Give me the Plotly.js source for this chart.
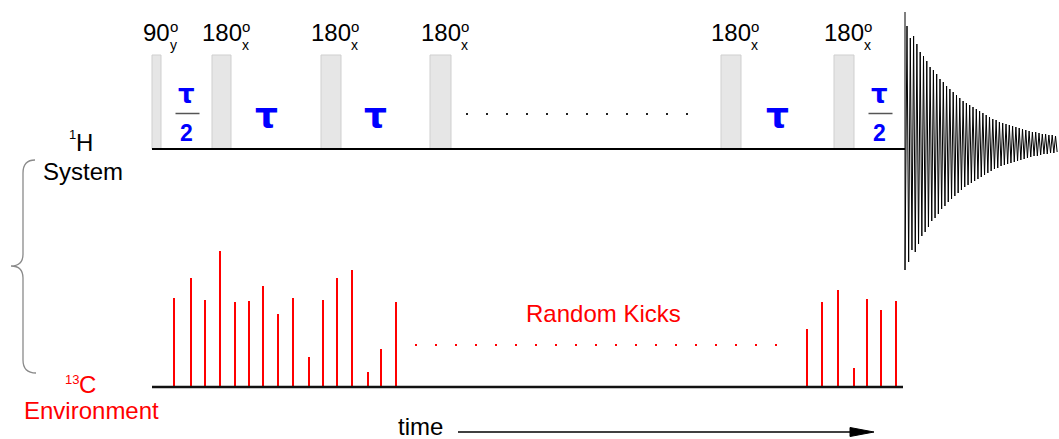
<!DOCTYPE html>
<html><head><meta charset="utf-8">
<script src="https://cdn.plot.ly/plotly-3.0.1.min.js"></script>
<style>html,body{margin:0;padding:0;background:#fff}</style>
</head><body><div id="chart" style="width:1059px;height:439px"></div>
<script>
// ---- data ----
const pulseAngles = ['90','180','180','180','180','180'];
const pulsePhases = ['y','x','x','x','x','x'];
const pulseStart = [152,212,321,430,721,834];
const pulseEnd   = [161,231,341,451,741,854];
const gapLabels  = ['τ/2','τ','τ','···','τ','τ/2'];
const acquisitionStart = 905;
const kickTimes   = [174,191,205,220,235,249,263,278,293,309,323,337,352,368,381,396,807,822,838,854,867,881,896];
const kickHeights = [89,109,87,136,85,86,101,73,89,30,87,109,117,15,38,85,58,85,97,19,88,77,86];
const fidAmps = [118,106,108,100,92,88,83,77,74,70,65,62,58,55,52,49,46,43,41,39,37,35,33,31,29,27,25,24,22,21,20,19,18,17,16,15,14,13,12,12,11,10,10,9,9,8];
const fidInitial = [132,126];
const rowLabels = {system:'System', environment:'Environment', kicks:'Random Kicks', time:'time'};

// ---- geometry ----
const H_BASE = 149, C_BASE = 387, PULSE_TOP = 55, FID_CENTER = 144, FID_PERIOD = 3.3;
const FONT = 'Liberation Sans, Arial, sans-serif';
const TAU_FONT = 'DejaVu Sans, Liberation Sans, sans-serif';
const traces = [], shapes = [], ann = [];

// baselines
shapes.push({type:'line', x0:pulseStart[0], x1:acquisitionStart, y0:H_BASE, y1:H_BASE, line:{color:'#000', width:2}});
shapes.push({type:'line', x0:pulseStart[0], x1:acquisitionStart-2, y0:C_BASE, y1:C_BASE, line:{color:'#111', width:2.5}});

// pulses + labels
pulseStart.forEach((s,i)=>{
  const e = pulseEnd[i], c = (s+e)/2;
  shapes.push({type:'rect', x0:s, x1:e, y0:PULSE_TOP, y1:H_BASE, fillcolor:'#e6e6e6', line:{color:'#cfcfcf', width:1}, layer:'below'});
  const half = pulseAngles[i].length*6.67;
  ann.push({x:c, y:32, text:pulseAngles[i], font:{family:FONT, size:24, color:'#000'}, xanchor:'center', yanchor:'middle'});
  ann.push({x:c+half-2, y:26, text:'o', font:{family:FONT, size:15, color:'#000'}, xanchor:'left', yanchor:'middle'});
  ann.push({x:c+half-2, y:45, text:pulsePhases[i], font:{family:FONT, size:14, color:'#000'}, xanchor:'left', yanchor:'middle'});
});

// gaps (delays)
const gapEdges = pulseEnd.map((e,i)=>[e, i+1<pulseStart.length ? pulseStart[i+1] : acquisitionStart]);
gapLabels.forEach((lab,i)=>{
  const [a,b] = gapEdges[i], m = (a+b)/2;
  if (lab === 'τ/2') {
    ann.push({x:m, y:94, text:'<b>τ</b>', font:{family:TAU_FONT, size:26, color:'#0000ff'}, xanchor:'center', yanchor:'middle'});
    shapes.push({type:'line', x0:m-11, x1:m+13, y0:113.5, y1:113.5, line:{color:'#555', width:1.5}});
    ann.push({x:m, y:133, text:'<b>2</b>', font:{family:FONT, size:23, color:'#0000ff'}, xanchor:'center', yanchor:'middle'});
  } else if (lab === 'τ') {
    ann.push({x:m, xshift:-10, y:115, text:'<b>τ</b>', font:{family:TAU_FONT, size:36, color:'#0000ff'}, xanchor:'center', yanchor:'middle'});
  } else {
    const xs = [], ys = [];
    for (let k=0; k<12; k++){ xs.push(a+16+k*20); ys.push(114); }
    traces.push({x:xs, y:ys, mode:'markers', marker:{symbol:'square', size:2, color:'#222'}, hoverinfo:'skip'});
  }
});

// kicks
const kx = [], ky = [];
kickTimes.forEach((t,i)=>{ kx.push(t,t,null); ky.push(C_BASE, C_BASE-kickHeights[i], null); });
traces.push({x:kx, y:ky, mode:'lines', line:{color:'#ff0000', width:2}, hoverinfo:'skip'});

// random kicks dotted row
{
  const xs=[], ys=[];
  for (let k=0;k<19;k++){ xs.push(kickTimes[15]+20+k*20); ys.push(345); }
  traces.push({x:xs, y:ys, mode:'markers', marker:{symbol:'square', size:2, color:'#ff0000'}, hoverinfo:'skip'});
}
ann.push({x:603, y:313, text:rowLabels.kicks, font:{family:FONT, size:24, color:'#ff0000'}, xanchor:'center', yanchor:'middle'});

// FID
{
  const xs=[acquisitionStart, acquisitionStart], ys=[FID_CENTER-fidInitial[0], FID_CENTER+fidInitial[1]];
  fidAmps.forEach((a,k)=>{
    const x0 = acquisitionStart+2+k*FID_PERIOD;
    xs.push(x0, x0+FID_PERIOD/2);
    ys.push(FID_CENTER-a, FID_CENTER+a);
  });
  traces.push({x:xs, y:ys, mode:'lines', line:{color:'#000', width:1}, hoverinfo:'skip'});
}

// left labels
ann.push({x:78, y:134.5, text:'1', font:{family:FONT, size:13, color:'#000'}, xanchor:'right', yanchor:'middle'});
ann.push({x:74, y:142.7, text:'H', font:{family:FONT, size:24, color:'#000'}, xanchor:'left', yanchor:'middle'});
ann.push({x:82.5, y:171.7, text:rowLabels.system, font:{family:FONT, size:24, color:'#000'}, xanchor:'center', yanchor:'middle'});
ann.push({x:81, y:379, text:'13', font:{family:FONT, size:13, color:'#ff0000'}, xanchor:'right', yanchor:'middle'});
ann.push({x:77, y:384.7, text:'C', font:{family:FONT, size:24, color:'#ff0000'}, xanchor:'left', yanchor:'middle'});
ann.push({x:91, y:410.7, text:rowLabels.environment, font:{family:FONT, size:24, color:'#ff0000'}, xanchor:'center', yanchor:'middle'});

// brace
shapes.push({type:'path', path:'M 35 160 Q 23 160 23 173 L 23 254 Q 23 266 11 266 Q 23 266 23 278 L 23 360 Q 23 373 36 373', line:{color:'#8a8a8a', width:1.3}});

// time arrow
ann.push({x:420, y:426, text:rowLabels.time, font:{family:FONT, size:24, color:'#000'}, xanchor:'center', yanchor:'middle', borderpad:0});
shapes.push({type:'line', x0:458, x1:852, y0:432, y1:432, line:{color:'#000', width:1.3}});
shapes.push({type:'path', path:'M 850 427.5 L 874 432 L 850 436.5 Z', fillcolor:'#000', line:{color:'#000', width:1}});

const layout = {
  width:1059, height:439, margin:{l:0,r:0,t:0,b:0},
  xaxis:{range:[0,1059], visible:false, fixedrange:true},
  yaxis:{range:[439,0], visible:false, fixedrange:true},
  showlegend:false, plot_bgcolor:'#fff', paper_bgcolor:'#fff',
  shapes:shapes, annotations:ann.map(a=>Object.assign({showarrow:false, xref:'x', yref:'y'}, a))
};
Plotly.newPlot('chart', traces, layout, {displayModeBar:false, staticPlot:true});
</script></body></html>
